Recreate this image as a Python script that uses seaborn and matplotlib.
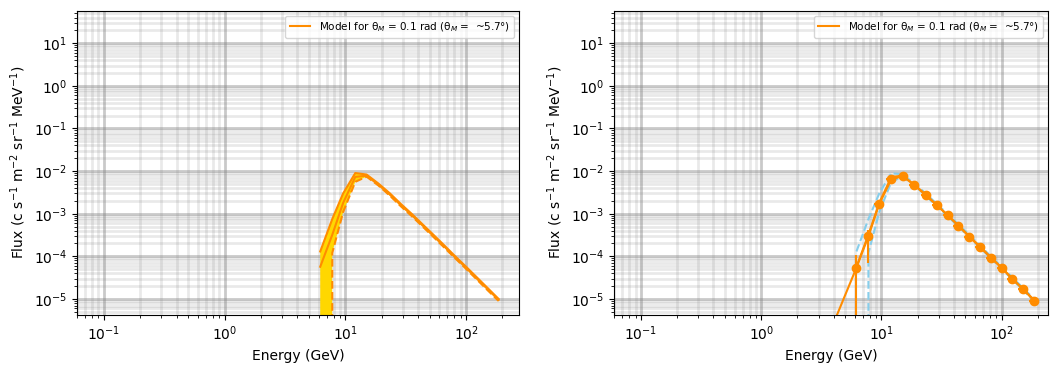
import numpy as np
import pandas as pd
import matplotlib
matplotlib.use("Agg")
import matplotlib.pyplot as plt
from matplotlib.ticker import NullFormatter, FixedLocator
import seaborn as sns

# Energy bin centres (GeV)
energy = [6.2, 7.8, 9.6, 12.1, 15.0, 18.8, 23.4, 28.8, 35.5, 43.7, 53.7,
          66.1, 81.3, 100.0, 123.0, 151.0, 186.0]

# Model flux for theta_M = 0.1 rad: central curve and envelope
model_mid = [5.7e-5, 3.2e-4, 1.8e-3, 7.3e-3, 7.8e-3, 4.8e-3, 2.8e-3, 1.6e-3,
             9.3e-4, 5.3e-4, 3.0e-4, 1.7e-4, 9.5e-5, 5.4e-5, 3.0e-5, 1.7e-5, 9.5e-6]
model_hi = [1.3e-4, 7.5e-4, 3.0e-3, 9.0e-3, 8.3e-3, 5.1e-3, 3.0e-3, 1.7e-3,
            9.9e-4, 5.6e-4, 3.2e-4, 1.8e-4, 1.0e-4, 5.7e-5, 3.2e-5, 1.8e-5, 1.0e-5]
model_lo = [0.0, 1.2e-4, 1.1e-3, 5.6e-3, 7.4e-3, 4.6e-3, 2.65e-3, 1.5e-3,
            8.8e-4, 5.0e-4, 2.85e-4, 1.6e-4, 9.0e-5, 5.1e-5, 2.85e-5, 1.6e-5, 9.0e-6]

# Measured spectrum (first entry lies below the plotted range)
data_energy = [3.83, 6.2, 7.8, 9.6, 12.1, 15.0, 18.8, 23.4, 28.8, 35.5, 43.7,
               53.7, 66.1, 81.3, 100.0, 123.0, 151.0, 186.0]
data_flux = [2.0e-6, 5.4e-5, 3.0e-4, 1.7e-3, 6.4e-3, 7.6e-3, 4.7e-3, 2.7e-3,
             1.6e-3, 9.3e-4, 5.2e-4, 2.9e-4, 1.65e-4, 9.3e-5, 5.4e-5, 2.9e-5,
             1.7e-5, 9.1e-6]
data_err_lo = [0.0, 5.4e-5, 2.3e-4, 2.0e-4, 5.0e-4, 5.0e-4, 3.0e-4, 1.7e-4,
               1.0e-4, 6.0e-5, 3.3e-5, 1.9e-5, 1.1e-5, 6.0e-6, 3.5e-6, 1.9e-6,
               1.1e-6, 6.0e-7]
data_err_hi = [0.0, 5.3e-5, 1.2e-4, 2.0e-4, 5.0e-4, 5.0e-4, 3.0e-4, 1.7e-4,
               1.0e-4, 6.0e-5, 3.3e-5, 1.9e-5, 1.1e-5, 6.0e-6, 3.5e-6, 1.9e-6,
               1.1e-6, 6.0e-7]

# Decade ticks shown on each axis
x_ticks = [1e-1, 1e0, 1e1, 1e2]
y_ticks = [1e-5, 1e-4, 1e-3, 1e-2, 1e-1, 1e0, 1e1]

model_label = r"Model for θ$_M$ = 0.1 rad (θ$_M$ =  ~5.7°)"
x_label = "Energy (GeV)"
y_label = r"Flux (c s$^{-1}$ m$^{-2}$ sr$^{-1}$ MeV$^{-1}$)"

model_df = pd.DataFrame({"energy": energy, "mid": model_mid,
                         "hi": model_hi, "lo": model_lo})

fig = plt.figure(figsize=(10.51, 3.65), dpi=100)
ax1 = fig.add_axes([0.0733, 0.137, 0.4206, 0.8337])
ax2 = fig.add_axes([0.5842, 0.137, 0.4129, 0.8337])

ORANGE = "darkorange"


def style_axes(ax, xlim):
    ax.set_xscale("log")
    ax.set_yscale("log")
    ax.set_xlim(*xlim)
    ax.set_ylim(4.2e-6, 58)
    ax.xaxis.set_major_locator(FixedLocator(x_ticks))
    ax.yaxis.set_major_locator(FixedLocator(y_ticks))
    ax.xaxis.set_minor_formatter(NullFormatter())
    ax.yaxis.set_minor_formatter(NullFormatter())
    ax.set_axisbelow(True)
    ax.grid(which="major", color="gray", alpha=0.42, linewidth=2.0)
    ax.grid(which="minor", color="gray", alpha=0.17, linewidth=2.0)
    ax.set_xlabel(x_label, fontsize=10)
    ax.set_ylabel(y_label, fontsize=10)
    ax.tick_params(labelsize=10)
    ax.legend(loc="upper right", fontsize=7.5)


# Left panel: model envelope
ax1.fill_between(model_df["energy"], model_df["lo"], model_df["hi"],
                 color="gold", linewidth=0)
sns.lineplot(data=model_df, x="energy", y="hi", ax=ax1, color=ORANGE,
             linewidth=1.5, estimator=None, sort=False)
sns.lineplot(data=model_df, x="energy", y="lo", ax=ax1, color=ORANGE,
             linestyle="--", linewidth=1.5, estimator=None, sort=False)
sns.lineplot(data=model_df, x="energy", y="mid", ax=ax1, color=ORANGE,
             linewidth=1.5, estimator=None, sort=False, label=model_label)
style_axes(ax1, (0.06, 275))

# Right panel: model envelope with measured spectrum
sns.lineplot(data=model_df, x="energy", y="hi", ax=ax2, color="skyblue",
             linestyle="--", linewidth=1.5, estimator=None, sort=False)
sns.lineplot(data=model_df, x="energy", y="lo", ax=ax2, color="skyblue",
             linestyle="--", linewidth=1.5, estimator=None, sort=False)
sns.lineplot(data=model_df, x="energy", y="mid", ax=ax2, color=ORANGE,
             linewidth=1.5, estimator=None, sort=False, label=model_label)
de = np.array(data_energy)
ax2.errorbar(de, data_flux, yerr=[data_err_lo, data_err_hi],
             xerr=[de * 0.09, de * 0.09], fmt="o-", color=ORANGE,
             markersize=6, linewidth=1.5, elinewidth=1.5, capsize=0)
style_axes(ax2, (0.0596, 243))

fig.savefig("out.png", dpi=100)
